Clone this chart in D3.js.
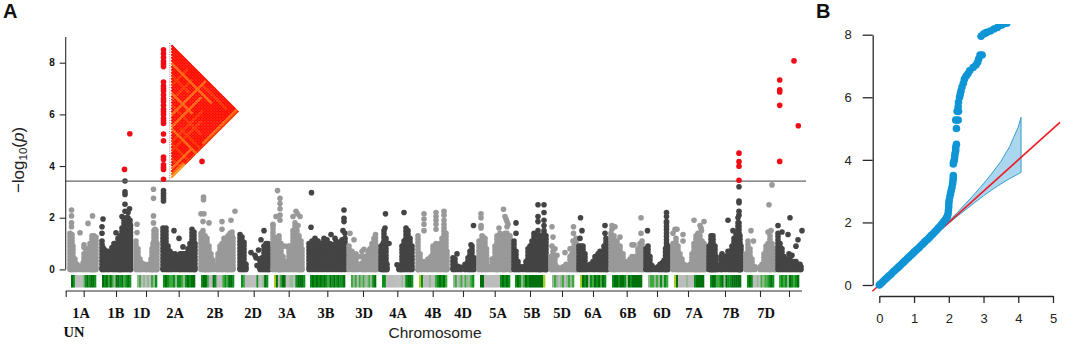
<!DOCTYPE html>
<html><head><meta charset="utf-8">
<script src="https://cdn.jsdelivr.net/npm/d3@7"></script>
<style>html,body{margin:0;background:#fff}svg{display:block}</style></head>
<body><svg id="c" width="1065" height="346"></svg>
<script>
// ---------- Panel A data: [genome index, -log10 p] ----------
const tops1A=[[70,1.4],[72,1.35],[73,.9],[75,.4],[77,.2],[80,.12],[83,.25],[84,.6],[86,.7],[88,.8],[90,1],[92,1.3],[94,1.3],[96,1.25]];
const hits1A=[[71.5,2.3],[71.5,2.07],[71.5,1.8],[71.5,1.65],[80,1.42],[88,1.78],[92.5,2.07],[84,.95],[84,.85]];
const tops1B=[[102,1.1],[103,.85],[105,.75],[107,.6],[109,.7],[112,.85],[114,1],[116,.9],[118,1.2],[120,1.3],[122,1.6],[124,1.9],[126,2],[128,2],[130,1.9],[130.5,1.7]];
const hits1B=[[103,1.95],[102,1.65],[102,1.4],[116,1.42],[125,2.25],[125,2.52],[125,2.9],[125,3],[125,3.42],[122,2.05],[129.5,2.35],[128,2.2]];
const tops1D=[[136,1.1],[138,.8],[140,.4],[142,.25],[145,.2],[147,.12],[149,.2],[151,.4],[152,.8],[153,1],[154,1.5],[156,1.5],[157,1]];
const hits1D=[[137,1.75],[137,1.43],[153.5,3.1],[153.5,2.75],[153.5,2.07],[153.5,1.8],[155,1.55]];
const tops2A=[[163,1.6],[166,1.6],[168,.9],[170,.7],[172,.6],[175,.6],[178,.5],[180,.6],[182,.6],[184,.6],[186,.6],[188,.8],[190,1],[192,1.55],[194,1.45],[195,1]];
const hits2A=[[174,1.5],[179,1.2],[183,.87],[163.5,3.05],[163.5,2.95],[163.5,2.85],[163.5,2.75],[163.5,2.65]];
const tops2B=[[201,1.4],[203,1.5],[205,1.3],[207,1.2],[209,.9],[211,.6],[213,.35],[216,.15],[218,.6],[220,.9],[222,1],[224,1.2],[226,1.2],[228,1.3],[230,1.4],[232,1.45],[233,1.2]];
const hits2B=[[203.5,2.8],[203.5,2.7],[201,2.15],[204,2.15],[203,1.85],[209,1.8],[222,1.55],[222,1.85],[231,1.9],[235,2.25]];
const tops2D=[[240,1.35],[242,1.25],[244,1.05],[246,.2],[248,-1],[258,-1],[260,.35],[262,.45],[264,.9],[266,1],[268,1],[269,.8]];
const hits2D=[[251,.65],[255,.55],[258.5,.75],[261,1.15],[264,1.5],[259,.4],[256,.45],[259,.1],[257,.15]];
const tops3A=[[273,1.7],[275,1.2],[277,1.2],[279,1.3],[281,1],[283,.5],[285,.3],[287,.3],[289,.9],[291,.9],[293,1.5],[295,1.8],[297,1.5],[299,1.3],[301,1.1],[302,.8]];
const hits3A=[[277.5,3.05],[280,2.75],[280,2.55],[280,2.35],[280,2.1],[280,1.9],[276,2.05],[273,1.75],[293,2.05],[296,2.25],[297.5,2.15],[300,2.05],[298,1.7],[285,.9]];
const tops3B=[[309,1],[312,1.1],[315,1.2],[318,1.1],[321,1],[324,1.1],[327,.95],[330,1],[333,.95],[336,1.1],[339,1.05],[342,1.15],[345,1.2]];
const hits3B=[[311.5,2.97],[311,1.63],[324,1.2],[331,1.35],[327,1.15],[335,1.2],[344,2.3],[344,1.98],[344,1.85],[343,1.5],[345,1.4]];
const tops3D=[[349,.9],[352,.7],[354,.5],[356,.4],[358,.2],[362,.25],[364,.5],[366,.5],[368,.7],[370,.8],[372,1],[374,1.2],[375.5,1.35],[377,.7]];
const hits3D=[[350,1.4],[354,1.15],[356,.6],[362,.7],[364,.78],[360,.5]];
const tops4A=[[381,.9],[383,1],[384,1.5],[386,1.2],[387,.2],[389,-1],[397,-1],[399,.15],[401,.15],[402,.9],[404,1.1],[406,1.6],[408,1.5],[410,1.2],[412,.9]];
const hits4A=[[385.5,2.15],[389,1],[385,1.6],[404,2.2],[397,.18]];
const tops4B=[[418,1.3],[420,.6],[422,.3],[425,.3],[428,.4],[431,.5],[433,.9],[436,1],[438,.8],[440,1],[442,1.2],[444,1.6],[446,1.4],[447,.7]];
const hits4B=[[424,2.15],[424,1.95],[424,1.75],[424,1.5],[436,2.2],[436,2.05],[436,1.9],[436,1.75],[436,1.55],[444,2.25],[444,2.1],[444,1.9],[444,1.75]];
const tops4D=[[453,.45],[455,.4],[458,.12],[461,.08],[465,.2],[468,.45],[470,.7],[472,.9],[474,.45]];
const hits4D=[[457,.6],[473.5,1.7],[471,.95]];
const tops5A=[[479,1.1],[482,1.3],[485,1.2],[486.5,.8],[488,-1],[489,.1],[492,.4],[495,.9],[497,1.3],[500,1.4],[503,1.3],[505,1.4],[507,1.4],[510,1.3],[511,.7]];
const hits5A=[[481,2.15],[481,2],[481,1.7],[481,1.6],[483,1.25],[499,1.6],[503.5,2.33],[505,2.05],[507,1.85],[507,1.65],[506,1.95],[508,1.75]];
const tops5B=[[514,1.1],[516,.7],[518,.3],[520,.1],[523,.1],[526,.3],[528,.8],[530,.9],[532,1.1],[534,1.4],[536,1.2],[538,1.5],[540,1.3],[542,1.2],[544,1.4],[546,1.3]];
const hits5B=[[516,1.8],[516,1.4],[538,2.5],[544,2.5],[538,2.05],[544,2.2],[544,1.9],[538,1.85],[544,1.7],[544,1.5]];
const tops5D=[[551,.5],[553,.7],[555,.5],[557,.1],[560,.05],[563,.1],[566,.2],[568,.15],[570,.5],[572,.6],[574,.9],[576,1.2],[577,.4]];
const hits5D=[[552,1.65],[553,1.25],[552,.9],[555,.8],[557,.55],[565,.65],[570,.8],[573,1.1],[573.5,1.65],[573.5,1.4]];
const tops6A=[[579,.9],[581,.9],[583,.9],[585,.6],[587,.15],[590,.2],[593,.3],[595,.5],[598,.6],[600,.5],[602,.6],[604,.9],[606,1.2],[607,1]];
const hits6A=[[580.5,2],[582,1.5],[580,1.2],[605,1.7],[605,1.4],[600,.7]];
const tops6B=[[611,1.4],[614,1.3],[617,1.1],[620,.9],[623,.6],[626,.3],[628,.15],[630,.4],[632,.5],[635,.5],[638,.8],[640,1],[642,1.1],[643,.6]];
const hits6B=[[612,1.7],[615,1.65],[620,1.25],[632,.95],[634,.95],[641,1.4],[641,2],[612,1.55]];
const tops6D=[[646,.8],[648,.9],[650,.5],[652,.15],[655,.05],[658,.1],[660,.2],[662,.25],[664,.35],[665.5,.8],[666.5,1.8],[668,.9]];
const hits6D=[[647.5,1.5],[666.5,2.2],[666.5,2.05],[666.5,1.85]];
const tops7A=[[673,1],[676,1.2],[678,.9],[680,.6],[682,.4],[684,.2],[686,.15],[688,.05],[690,.2],[692,.6],[694,1],[696,1.3],[698,1.4],[700,1.3],[702,1.1],[704,1],[705,.6]];
const hits7A=[[675,1.55],[677,1.55],[673,1.4],[683,1.35],[683,1.1],[694,1.9],[700,1.7],[701,1.6],[701.5,1.5],[704,1.85]];
const tops7B=[[709,.9],[711,1.3],[713,1.3],[715,.9],[716,.5],[718,.1],[721,.5],[722,.6],[725,.5],[728,.7],[730,.7],[732,.9],[734,1.2],[736,1.4],[738,1.8],[739,1.8],[740,1.3],[741,.9]];
const hits7B=[[739,3.2],[739,2.65],[739,2.58],[739,2.25],[739,2.1],[728,1.9],[738,2],[733,1.5]];
const tops7D=[[746,.6],[748,1.1],[750,.8],[752,.4],[755,.1],[760,.1],[762,.2],[764,.6],[766,.9],[768,1],[770,1.3],[772,1],[774,.8],[775,.4]];
const hits7D=[[751,1.5],[753.5,1.1],[769,2.5],[772,3.27],[768,1.45],[771,1.5]];
const topsUN=[[778,1.4],[780,1],[782,.8],[784,.5],[786,.4],[788,.35],[790,.5],[792,.3],[794,.3],[796,.3],[798,.2],[800,.2],[801,.1]];
const hitsUN=[[778,1.7],[782,1.45],[789,.6],[788,1.35],[796,.9],[798,1.15],[802,1.5],[790,2],[792,.55]];

const manhattan=[[tops1A,hits1A,0],[tops1B,hits1B,1],[tops1D,hits1D,0],[tops2A,hits2A,1],[tops2B,hits2B,0],[tops2D,hits2D,1],[tops3A,hits3A,0],[tops3B,hits3B,1],[tops3D,hits3D,0],[tops4A,hits4A,1],[tops4B,hits4B,0],[tops4D,hits4D,1],[tops5A,hits5A,0],[tops5B,hits5B,1],[tops5D,hits5D,0],[tops6A,hits6A,1],[tops6B,hits6B,0],[tops6D,hits6D,1],[tops7A,hits7A,0],[tops7B,hits7B,1],[tops7D,hits7D,0],[topsUN,hitsUN,1]];

const red2A=[8.5,8.35,8.2,8.05,7.95,7.85,7.25,7.1,7,6.9,6.75,6.6,6.5,6.35,6.2,6.1,6,5.85,5.75,5.65,5.24,4.98,4.35,4.25,4.05,3.95,3.87,3.49];
const redHits=[[124.5,3.87],[129.8,5.25],[202,4.18],[739,4.5],[739,4.17],[739,3.99],[739,3.45],[794,8.07],[779.7,7.33],[779.7,6.95],[779.7,6.87],[779.7,6.35],[779.7,4.18],[798.3,5.56]];
const threshold=3.42;

const tickPositions=[65.7,83.7,116,146,178.7,217.7,253.7,288.7,327.3,363,397.3,432.7,463,494.7,530,562,593,626.7,657,688,725,760,789];
const chromLabels=["1A","1B","1D","2A","2B","2D","3A","3B","3D","4A","4B","4D","5A","5B","5D","6A","6B","6D","7A","7B","7D"];
const labelPositions=[81,116,141.5,175,215,253,287,326,364,398,433,463,498,532,562,593,628,662,694,731,766];

// SNP density strip: [start, end, density codes]
const stripSpans=[[71,96],[102,131],[137,157],[163,195],[201,234],[241,268],[274,305],[310,345],[351,376],[382,413],[419,447],[453,474],[480,510],[515,545],[552,574],[580,606],[612,642],[648,668],[674,704],[710,741],[747,774],[779,799]];
const stripCodes=["4300001343443","434242144342343","1201010213","3432231332134344","34420043000232443","32000000300143","5402440011034443","343434343243434334","2120212112134","3300000000103443","53000100234342","12012021123","440000000034343","343124344444445","12101201212","5434132434243","344344314344444","1221213132","540000100034444","3442234143344444","34300102122343","2323143234"];
const stripColors=["#bcbcbc","#93b893","#3ea83e","#0b8f1b","#006f0e","#a8cc20"];

const ldCount=46;
const ldRowStreaks=[[6,7,33,2],[10,11,22,1],[16,17,30,2],[20,21,40,1],[28,29,45,2],[33,34,45,1],[38,39,45,1],[25,32,45,1],[3,24,40,1]]; // snp, from, to, level
const ldColStreaks=[[24,1,23,2],[28,8,27,2],[14,3,13,1],[19,5,18,1],[36,16,35,1],[42,28,41,2],[44,0,22,2],[45,0,44,1],[45,36,44,3],[44,36,43,2],[33,12,32,1]]; // snp, from, to, level
const ldColors=["#fc1000","#fb3106","#fb640e","#fa9a20"];

// ---------- Panel B data ----------
const qqExpected=[0,.05,.1,.15,.2,.25,.3,.35,.4,.45,.5,.55,.6,.65,.7,.75,.8,.85,.9,.95,1,1.05,1.1,1.15,1.2,1.25,1.3,1.35,1.4,1.45,1.5,1.55,1.6,1.65,1.7,1.75,1.8,1.85,1.9,1.93,1.96,1.98,1.99,2,2,2.01,2.03,2.05,2.07,2.09,2.11,2.12,2.13,2.13,2.13,2.14,2.16,2.17,2.18,2.2,2.2,2.22,2.22,2.2,2.27,2.24,2.28,2.27,2.28,2.31,2.33,2.35,2.38,2.42,2.45,2.5,2.55,2.6,2.7,2.78,2.83,2.86,2.9,2.96,2.93,3,3.05,3.1,3.2,3.3,3.4,3.5,3.55,3.67];
const qqObserved=[0,.05,.1,.16,.21,.26,.31,.36,.42,.47,.52,.57,.62,.68,.73,.78,.84,.89,.94,.99,1.05,1.1,1.15,1.2,1.26,1.31,1.37,1.42,1.47,1.53,1.59,1.64,1.7,1.76,1.82,1.88,1.95,2.02,2.08,2.14,2.2,2.28,2.38,2.5,2.6,2.7,2.82,2.92,3.02,3.12,3.24,3.34,3.42,3.5,3.87,3.92,4,4.1,4.2,4.3,4.4,4.5,5,5.27,5.27,5.55,5.55,5.7,5.85,6,6.1,6.2,6.33,6.45,6.58,6.68,6.75,6.85,6.95,7.03,7.12,7.22,7.35,7.35,7.95,8.02,8.05,8.08,8.12,8.18,8.23,8.3,8.33,8.37];
const ciExpected=[1.75,2,2.25,2.5,2.75,3,3.25,3.5,3.75,4,4.08];
const ciUpper=[1.76,2.05,2.32,2.62,2.92,3.24,3.58,3.95,4.42,5.05,5.36];
const ciLower=[1.74,1.97,2.2,2.42,2.64,2.85,3.05,3.23,3.4,3.55,3.6];

// ---------- Drawing ----------
const svg=d3.select("#c");
const defs=svg.append("defs");
defs.append("filter").attr("id","soft").append("feGaussianBlur").attr("stdDeviation",.45);
const SANS="'Liberation Sans',Arial,sans-serif", SERIF="'Liberation Serif','Times New Roman',serif";
const INK="#2a2a2a";

const x=d3.scaleLinear().domain([66,806]).range([66,806]);
const y=d3.scaleLinear().domain([0,8]).range([269.4,62.7]);
const shades=["#999999","#444444"];
const RP=2.8;
const stackStep=.13; // vertical spacing of stacked SNP points

const gA=svg.append("g");
const area=d3.area().defined(d=>d[1]>=0).x(d=>x(d[0])).y0(y(0)).y1(d=>y(d[1])).curve(d3.curveLinear);
manhattan.forEach(([tops,hits,s])=>{
  const g=gA.append("g").attr("fill",shades[s]);
  const inner=tops.map(d=>[d[0],d[1]>=0?Math.max(0,d[1]-.1):d[1]]);
  g.append("path").datum(inner).attr("d",area);
  const stacked=[];
  tops.filter(d=>d[1]>=0).forEach(d=>{
    for(let v=d[1];v>=0;v-=stackStep)stacked.push([d[0],v]);
    stacked.push([d[0],0]);
  });
  g.selectAll("circle").data(hits.concat(stacked)).join("circle")
    .attr("cx",d=>x(d[0])).attr("cy",d=>y(d[1])).attr("r",RP);
});

// threshold
gA.append("line").attr("x1",x(66)).attr("x2",x(806)).attr("y1",y(threshold)).attr("y2",y(threshold)).attr("stroke","#666").attr("stroke-width",1.2);

// red hits
gA.append("g").attr("fill","#f00c14").selectAll("circle")
  .data(red2A.map(v=>[163.5,v]).concat(redHits)).join("circle")
  .attr("cx",d=>x(d[0])).attr("cy",d=>y(d[1])).attr("r",RP);

// LD triangle
const ldTop=43, ldBottom=180, ldLeft=170.7;
const ldPos=d3.scaleLinear().domain([0,ldCount]).range([ldTop,ldBottom]);
const ldStep=(ldBottom-ldTop)/ldCount;
const ldCells=[];
for(let i=0;i<ldCount;i++)for(let j=i+1;j<ldCount;j++){
  let v=0;
  ldRowStreaks.forEach(s=>{if(s[0]===i&&j>=s[1]&&j<=s[2])v=Math.max(v,s[3]);});
  ldColStreaks.forEach(s=>{if(s[0]===j&&i>=s[1]&&i<=s[2])v=Math.max(v,s[3]);});
  ldCells.push({i,j,v});
}
defs.append("clipPath").attr("id","tri").append("polygon")
  .attr("points",[[ldLeft,ldTop],[ldLeft+(ldBottom-ldTop)/2,(ldTop+ldBottom)/2],[ldLeft,ldBottom]].join(" "));
const ldG=svg.append("g").attr("clip-path","url(#tri)").append("g").attr("filter","url(#soft)");
ldG.selectAll("path").data(ldCells.sort((a,b)=>a.v-b.v)).join("path")
  .attr("d",c=>{
    const cx=ldLeft+(c.j-c.i)*ldStep/2, cy=ldPos((c.i+c.j+1)/2), h=ldStep/2+.2;
    return `M${cx-h},${cy}L${cx},${cy-h}L${cx+h},${cy}L${cx},${cy+h}Z`;
  })
  .attr("fill",c=>ldColors[c.v]);
svg.append("line").attr("x1",ldLeft-1).attr("x2",ldLeft-1).attr("y1",ldTop).attr("y2",ldBottom)
  .attr("stroke","#a9a9a9").attr("stroke-width",1.4).attr("stroke-dasharray","1 1.2");

// density strip
const stripG=svg.append("g").attr("filter","url(#soft)");
stripSpans.forEach((s,k)=>{
  const codes=stripCodes[k].split("").map(Number), w=(x(s[1])-x(s[0]))/codes.length;
  stripG.append("g").selectAll("rect").data(codes).join("rect")
    .attr("x",(d,i)=>x(s[0])+i*w).attr("y",275).attr("width",w+.3).attr("height",12.5).attr("fill",d=>stripColors[d]);
});

// axes panel A
function styleAxis(g,w){g.selectAll("path,line").attr("stroke",INK).attr("stroke-width",w);}
const yAxisA=svg.append("g").attr("transform","translate(65.7,0)")
  .call(d3.axisLeft(y).tickValues([0,2,4,6,8]).tickSize(6).tickSizeOuter(0));
yAxisA.select(".domain").attr("d",`M0,37V${y(0)}`);
styleAxis(yAxisA,1.1);
yAxisA.selectAll("text").attr("font-family",SANS).attr("font-weight","bold").attr("font-size",10).attr("fill","#111").attr("x",-11);

const xAxisA=svg.append("g").attr("transform","translate(0,291)")
  .call(d3.axisBottom(x).tickValues(tickPositions).tickFormat("").tickSize(6).tickSizeOuter(0));
xAxisA.select(".domain").attr("d",`M${x(65.7)},0H${x(802)}`);
styleAxis(xAxisA,1.1);

svg.append("g").selectAll("text").data(chromLabels).join("text")
  .attr("x",(d,i)=>x(labelPositions[i])).attr("y",318).attr("text-anchor","middle")
  .attr("font-family",SERIF).attr("font-weight","bold").attr("font-size",14.5).attr("fill","#111").text(d=>d);
svg.append("text").attr("x",x(74)).attr("y",336.5).attr("text-anchor","middle")
  .attr("font-family",SERIF).attr("font-weight","bold").attr("font-size",14.5).attr("fill","#111").text("UN");
svg.append("text").attr("x",435).attr("y",338).attr("text-anchor","middle")
  .attr("font-family",SANS).attr("font-size",15.5).attr("fill","#222").text("Chromosome");

const yt=svg.append("text").attr("transform","translate(24,160) rotate(-90)").attr("text-anchor","middle")
  .attr("font-family",SANS).attr("font-size",17).attr("fill","#222");
yt.append("tspan").text("\u2212log");
yt.append("tspan").attr("font-size",11.5).attr("dy",3).text("10");
yt.append("tspan").attr("dy",-3).text("(");
yt.append("tspan").attr("font-style","italic").text("p");
yt.append("tspan").text(")");

svg.append("text").attr("x",3).attr("y",17.5).attr("font-family",SANS).attr("font-weight","bold").attr("font-size",20).attr("fill","#111").text("A");
svg.append("text").attr("x",816).attr("y",17.5).attr("font-family",SANS).attr("font-weight","bold").attr("font-size",20).attr("fill","#111").text("B");

// Panel B
const bx=d3.scaleLinear().domain([0,5]).range([879.3,1053]);
const by=d3.scaleLinear().domain([0,8]).range([285,34.7]);
const ci=d3.range(ciExpected.length);
svg.append("path").datum(ci)
  .attr("d",d3.area().x(i=>bx(ciExpected[i])).y0(i=>by(ciLower[i])).y1(i=>by(ciUpper[i])))
  .attr("fill","#aad6f0").attr("stroke","none");
[ciUpper,ciLower].forEach(a=>svg.append("path").datum(ci)
  .attr("d",d3.line().x(i=>bx(ciExpected[i])).y(i=>by(a[i])))
  .attr("fill","none").attr("stroke","#3a9cc8").attr("stroke-width",1));
svg.append("line").attr("x1",bx(4.08)).attr("x2",bx(4.08)).attr("y1",by(5.36)).attr("y2",by(3.6)).attr("stroke","#3a9cc8").attr("stroke-width",1);
svg.append("line").attr("x1",bx(-.2)).attr("y1",by(-.2)).attr("x2",bx(5.2)).attr("y2",by(5.2)).attr("stroke","#ef1c24").attr("stroke-width",1.6);
defs.append("clipPath").attr("id","qq").append("rect").attr("x",870).attr("y",24).attr("width",190).attr("height",280);
svg.append("g").attr("clip-path","url(#qq)").attr("fill","#0f95d6").selectAll("circle")
  .data(qqExpected.map((e,i)=>[e,qqObserved[i]])).join("circle")
  .attr("cx",d=>bx(d[0])).attr("cy",d=>by(d[1])).attr("r",3.8);

const yAxisB=svg.append("g").attr("transform","translate(872.7,0)").call(d3.axisLeft(by).tickValues([0,2,4,6,8]).tickSize(10).tickSizeOuter(0));
styleAxis(yAxisB,1.3);
yAxisB.selectAll("text").attr("font-family",SANS).attr("font-size",13).attr("fill","#222").attr("x",-24.5).attr("text-anchor","middle");
const xAxisB=svg.append("g").attr("transform","translate(0,296)").call(d3.axisBottom(bx).ticks(5).tickSize(7).tickSizeOuter(0));
styleAxis(xAxisB,1.3);
xAxisB.selectAll("text").attr("font-family",SANS).attr("font-size",13).attr("fill","#222").attr("y",18);
</script></body></html>
